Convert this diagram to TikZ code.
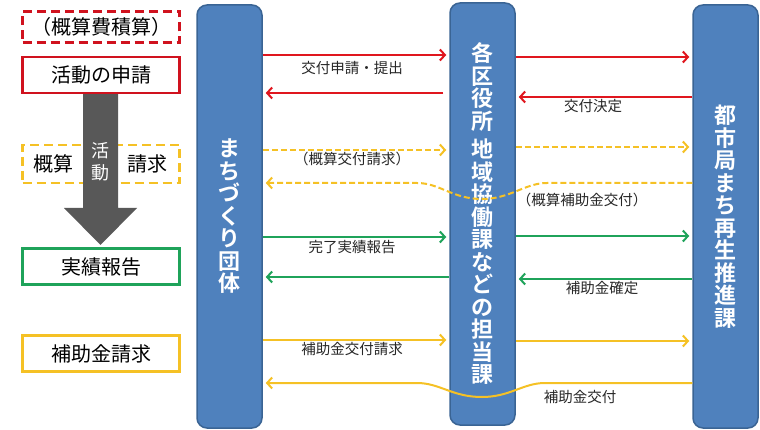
\documentclass[tikz,border=0pt]{standalone}
\usepackage{fontspec}
\setmainfont{Noto Sans CJK JP}[BoldFont={Noto Sans CJK JP Bold}]
\usetikzlibrary{arrows.meta,positioning,calc}
\definecolor{barblue}{HTML}{4F81BD}
\definecolor{barline}{HTML}{3A6494}
\definecolor{flowred}{HTML}{E0161E}
\definecolor{stepred}{HTML}{D0121E}
\definecolor{flowgreen}{HTML}{1FA35A}
\definecolor{flowyellow}{HTML}{F5C125}
\definecolor{darkarrow}{HTML}{585858}

\begin{document}
\begin{tikzpicture}[x=1pt,y=-1pt,
  bar/.style={draw=barline,line width=1.5pt,fill=barblue,rounded corners=10pt,minimum width=65pt,
    text=white,font=\bfseries\fontsize{22}{22.5}\selectfont,align=center,inner sep=0pt},
  stepbox/.style={draw,line width=2.4pt,fill=white,minimum width=157pt,minimum height=36pt,
    font=\fontsize{20}{22}\selectfont,inner sep=0pt},
  dashbox/.style={stepbox,dash pattern=on 9pt off 5pt},
  flow/.style={line width=2pt,-{Straight Barb[length=5pt,width=11pt]},shorten >=3pt},
  lbl/.style={font=\fontsize{14.5}{16}\selectfont,text=black!85,inner sep=1pt},
]
  \useasboundingbox (0,0) rectangle (760,430);

  % steps on the left
  \node[dashbox,draw=stepred,minimum height=31pt] (sekisan) at (101,27) {（概算費積算）};
  \node[stepbox,draw=stepred] (shinsei) at (101,75) {活動の申請};
  \node[dashbox,draw=flowyellow,minimum height=38pt] (gaisan) at (101,164) {};
  \node[font=\fontsize{20}{22}\selectfont] (gaisanL) at (53,164) {概算};
  \node[font=\fontsize{20}{22}\selectfont] (gaisanR) at (147,164) {請求};
  \node[stepbox,draw=flowgreen] (jisseki) at (101,266.5) {実績報告};
  \node[stepbox,draw=flowyellow] (hojo) at (101,353.5) {補助金請求};

  % activity arrow
  \fill[darkarrow] (shinsei.south -| 83,0) -- (shinsei.south -| 118,0) -- (118,208) -- (137,208)
    -- (100.5,245) -- (64,208) -- (83,208) -- cycle;
  \node[text=white,font=\fontsize{18}{22}\selectfont,align=center,inner sep=0pt] (katsudo) at (100.5,162) {活\\動};

  % the three offices
  \node[bar,minimum height=423pt] (dantai) at (229.5,216.5) {ま\\ち\\づ\\く\\り\\団\\体};
  \node[bar,minimum height=422pt] (kuyaku) at (482.5,214) {各\\区\\役\\所\\[6pt]地\\域\\協\\働\\課\\な\\ど\\の\\担\\当\\課};
  \node[bar,minimum height=423pt] (toshi) at (725.5,216.5) {都\\市\\局\\ま\\ち\\再\\生\\推\\進\\課};

  % application
  \draw[flow,flowred] (dantai.east |- 0,55) -- (kuyaku.west |- 0,55);
  \node[lbl] (l1) at (352,68) {交付申請・提出};
  \draw[flow,flowred,shorten <=6pt] (kuyaku.west |- 0,93) -- (dantai.east |- 0,93);
  \draw[flow,flowred] (kuyaku.east |- 0,57) -- (toshi.west |- 0,57);
  \draw[flow,flowred] (toshi.west |- 0,97) -- (kuyaku.east |- 0,97);
  \node[lbl] (l2) at (593,106) {交付決定};

  % advance payment
  \draw[flow,flowyellow,dash pattern=on 6pt off 3pt] (dantai.east |- 0,150) -- (kuyaku.west |- 0,150);
  \node[lbl] (l3) at (352,159) {（概算交付請求）};
  \draw[flow,flowyellow,dash pattern=on 6pt off 3pt] (kuyaku.east |- 0,147) -- (toshi.west |- 0,147);
  \draw[flow,flowyellow,dash pattern=on 6pt off 3pt] (toshi.west |- 0,183) -- (547,183)
    .. controls (525,183) and (510,199) .. (482,199) .. controls (452,199) and (440,183) .. (417,183)
    -- (dantai.east |- 0,183);
  \node[lbl] (l4) at (582,200) {（概算補助金交付）};

  % report
  \draw[flow,flowgreen] (dantai.east |- 0,237) -- (kuyaku.west |- 0,237);
  \node[lbl] (l5) at (352,247) {完了実績報告};
  \draw[flow,flowgreen] (kuyaku.west |- 0,277) -- (dantai.east |- 0,277);
  \draw[flow,flowgreen] (kuyaku.east |- 0,236) -- (toshi.west |- 0,236);
  \draw[flow,flowgreen] (toshi.west |- 0,279) -- (kuyaku.east |- 0,279);
  \node[lbl] (l6) at (602,288) {補助金確定};

  % subsidy
  \draw[flow,flowyellow] (dantai.east |- 0,340) -- (kuyaku.west |- 0,340);
  \node[lbl] (l7) at (352,349) {補助金交付請求};
  \draw[flow,flowyellow] (kuyaku.east |- 0,341) -- (toshi.west |- 0,341);
  \draw[flow,flowyellow] (toshi.west |- 0,383) -- (545,383)
    .. controls (523,383) and (510,397) .. (482,397) .. controls (452,397) and (440,383) .. (417,383)
    -- (dantai.east |- 0,383);
  \node[lbl] (l8) at (580,397) {補助金交付};
\end{tikzpicture}
\end{document}
